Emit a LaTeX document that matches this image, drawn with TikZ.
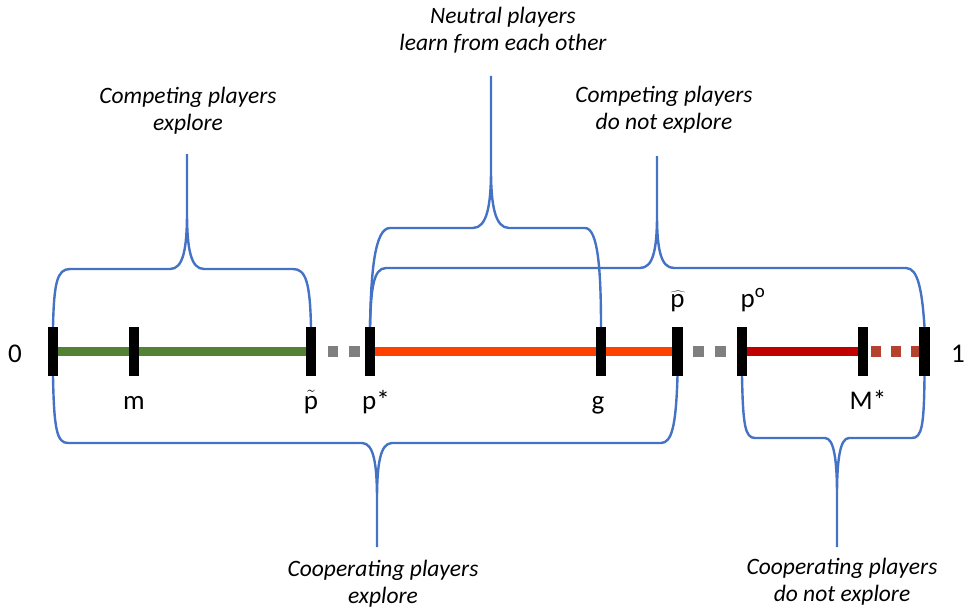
\documentclass[tikz,border=0pt]{standalone}
\usepackage{fontspec}
\setmainfont{Carlito}
\usetikzlibrary{backgrounds}
\definecolor{bblue}{HTML}{4472C4}
\definecolor{sgreen}{HTML}{548235}
\definecolor{sgray}{HTML}{7F7F7F}
\definecolor{sorange}{HTML}{FF4000}
\definecolor{sdred}{HTML}{C00000}
\definecolor{sbrown}{HTML}{B5412F}
\begin{document}
\begin{tikzpicture}[x=1pt,y=-1pt,
  tickbox/.style={fill=black,draw=none,minimum width=10.5pt,minimum height=49pt,inner sep=0pt},
  segline/.style={line width=9.5pt},
  sqbox/.style={minimum size=10.5pt,inner sep=0pt,draw=none},
  brace/.style={draw=bblue,line width=2.4pt,line join=round},
  captext/.style={font=\fontsize{23.5}{27}\selectfont\itshape,align=center,inner sep=0pt},
  labtext/.style={font=\fontsize{27}{30}\selectfont,inner sep=0pt,anchor=base}]
\useasboundingbox (0,0) rectangle (964,610);
% ticks
\node[tickbox] (t0) at (53,351.5) {};
\node[tickbox] (tm) at (134,351.5) {};
\node[tickbox] (tp) at (311,351.5) {};
\node[tickbox] (ps) at (370,351.5) {};
\node[tickbox] (tg) at (601,351.5) {};
\node[tickbox] (th) at (677.5,351.5) {};
\node[tickbox] (to) at (742,351.5) {};
\node[tickbox] (tM) at (863,351.5) {};
\node[tickbox] (t1) at (924.5,351.5) {};
% segments
\begin{scope}[on background layer]
\draw[segline,sgreen] (t0.center) -- (tp.center);
\draw[segline,sorange] (ps.center) -- (th.center);
\draw[segline,sdred] (to.center) -- (tM.center);
\end{scope}
\node[sqbox,fill=sgray] (g1) at (333,351.5) {};
\node[sqbox,fill=sgray] (g2) at (354.5,351.5) {};
\node[sqbox,fill=sgray] (g3) at (698.5,351.5) {};
\node[sqbox,fill=sgray] (g4) at (720.5,351.5) {};
\node[sqbox,fill=sbrown] (r1) at (876,351.5) {};
\node[sqbox,fill=sbrown] (r2) at (896,351.5) {};
\node[sqbox,fill=sbrown,minimum width=8pt] (r3) at (915,351.5) {};
% labels
\node[labtext] (l0) at (15,362) {0};
\node[labtext] (l1) at (958,362) {1};
\node[labtext] (lm) at (134,409) {m};
\node[labtext] (lpt) at (311,409) {$\tilde{\mbox{p}}$};
\node[labtext] (lps) at (376,409) {p*};
\node[labtext] (lg) at (598,409) {g};
\node[labtext] (lph) at (678,307) {$\widehat{\mbox{p\kern1pt}}$};
\node[labtext] (lpo) at (753,307) {p\textsuperscript{o}};
\node[labtext] (lM) at (868,409) {M*};
% captions
\node[captext] (c1) at (188,111) {Competing players\\explore};
\node[captext] (c2) at (503,30) {Neutral players\\learn from each other};
\node[captext] (c3) at (664,110) {Competing players\\do not explore};
\node[captext] (c4) at (383,584) {Cooperating players\\explore};
\node[captext] (c5) at (842,582) {Cooperating players\\do not explore};
% brace 1: competing explore
\draw[brace] (t0.north) .. controls (54,283) and (57,269) .. (70,269) -- (170,269)
  .. controls (183,269) and (187,250) .. (187,212) -- (187,154)
  (187,212) .. controls (187,250) and (191,269) .. (204,269) -- (293,269)
  .. controls (306,269) and (310,283) .. (tp.north);
% brace 2: neutral
\draw[brace] (ps.north) .. controls (371,270) and (375,228) .. (390,228) -- (473,228)
  .. controls (487,228) and (491,205) .. (491,170) -- (491,76)
  (491,170) .. controls (491,205) and (495,228) .. (509,228) -- (585,228)
  .. controls (598,228) and (601,270) .. (tg.north);
% brace 3: competing do not explore
\draw[brace] (ps.north) .. controls (371,290) and (373,268) .. (386,268) -- (640,268)
  .. controls (653,268) and (657,250) .. (657,215) -- (657,156)
  (657,215) .. controls (657,250) and (661,268) .. (674,268) -- (906,268)
  .. controls (918,268) and (922,290) .. (t1.north);
% brace 4: cooperating explore
\draw[brace] (t0.south) .. controls (54,430) and (57,443) .. (68,443) -- (362,443)
  .. controls (374,443) and (377,465) .. (377,500) -- (377,547)
  (377,500) .. controls (377,465) and (380,443) .. (392,443) -- (661,443)
  .. controls (672,443) and (676,425) .. (th.south);
% brace 5: cooperating do not explore
\draw[brace] (to.south) .. controls (743,425) and (745,438) .. (755,438) -- (825,438)
  .. controls (834,438) and (837,460) .. (837,495) -- (837,547)
  (837,495) .. controls (837,460) and (840,438) .. (849,438) -- (912,438)
  .. controls (922,438) and (924,425) .. (t1.south);
\end{tikzpicture}
\end{document}
